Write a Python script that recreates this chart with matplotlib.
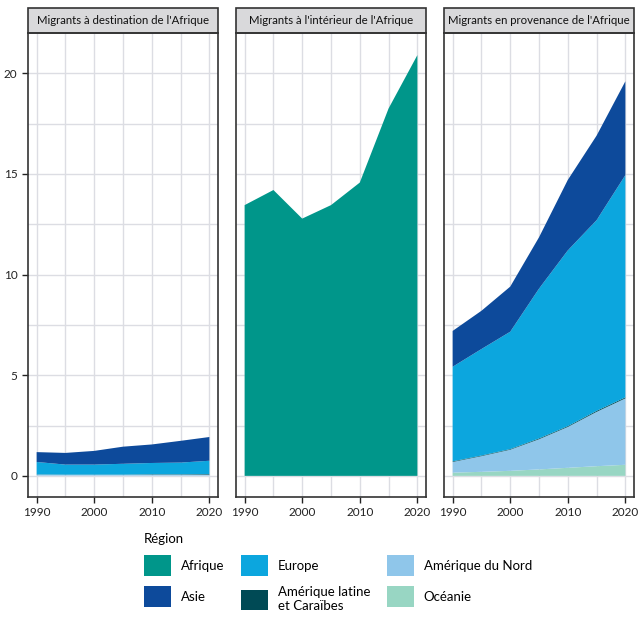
import numpy as np
import matplotlib
matplotlib.use("Agg")
import matplotlib.pyplot as plt
from matplotlib.patches import Rectangle, Patch

plt.rcParams["font.family"] = ["Lato", "DejaVu Sans"]

# données (millions de migrants)
annees = [1990, 1995, 2000, 2005, 2010, 2015, 2020]
regions = ["Afrique", "Asie", "Europe", "Amérique latine\net Caraïbes",
           "Amérique du Nord", "Océanie"]
couleurs = ["#00968a", "#0d4a9b", "#0ca6de", "#004a55", "#8fc6ea", "#98d6c3"]

# destination de l'Afrique (ordre: Océanie, Am. Nord, Am. latine, Europe, Asie)
dest_oceanie = [0.01, 0.01, 0.01, 0.01, 0.01, 0.01, 0.01]
dest_amnord = [0.05, 0.04, 0.04, 0.04, 0.05, 0.05, 0.05]
dest_amlat = [0.01, 0.01, 0.01, 0.01, 0.02, 0.02, 0.03]
dest_europe = [0.62, 0.50, 0.50, 0.54, 0.56, 0.58, 0.66]
dest_asie = [0.49, 0.58, 0.68, 0.85, 0.92, 1.08, 1.18]

# à l'intérieur de l'Afrique
int_afrique = [13.45, 14.2, 12.78, 13.45, 14.57, 18.25, 20.9]

# en provenance de l'Afrique
prov_oceanie = [0.16, 0.20, 0.25, 0.32, 0.40, 0.48, 0.55]
prov_amnord = [0.53, 0.78, 1.05, 1.50, 2.03, 2.70, 3.30]
prov_amlat = [0.03, 0.03, 0.03, 0.04, 0.04, 0.05, 0.05]
prov_europe = [4.70, 5.29, 5.83, 7.44, 8.73, 9.47, 11.04]
prov_asie = [1.78, 1.90, 2.24, 2.55, 3.50, 4.20, 4.66]

titres = ["Migrants à destination de l'Afrique",
          "Migrants à l'intérieur de l'Afrique",
          "Migrants en provenance de l'Afrique"]

W, H = 641, 617
fig, axes = plt.subplots(1, 3, figsize=(W / 100, H / 100), dpi=100, sharey=True)
fig.subplots_adjust(left=28 / W, right=634 / W, top=1 - 33 / H,
                    bottom=1 - 497 / H, wspace=18 / 190)

ordre = [couleurs[5], couleurs[4], couleurs[3], couleurs[2], couleurs[1]]
# panel 1
axes[0].stackplot(annees, dest_oceanie, dest_amnord, dest_amlat, dest_europe,
                  dest_asie, colors=ordre, linewidth=0)
# panel 2
axes[1].stackplot(annees, int_afrique, colors=[couleurs[0]], linewidth=0)
# panel 3
axes[2].stackplot(annees, prov_oceanie, prov_amnord, prov_amlat, prov_europe,
                  prov_asie, colors=ordre, linewidth=0)

for i, ax in enumerate(axes):
    ax.set_xlim(1988.5, 2021.5)
    ax.set_ylim(-1.05, 22.0)
    ax.set_xticks([1990, 2000, 2010, 2020])
    ax.set_xticks([1995, 2005, 2015], minor=True)
    ax.set_yticks([0, 5, 10, 15, 20])
    ax.set_yticks([2.5, 7.5, 12.5, 17.5], minor=True)
    ax.grid(True, which="both", color="#dcdde3", linewidth=1.0)
    ax.set_axisbelow(True)
    ax.tick_params(which="major", direction="out", length=4, width=1,
                   color="#222222", labelsize=8.5, labelcolor="#222222")
    ax.tick_params(which="minor", length=0)
    if i > 0:
        ax.tick_params(axis="y", length=0)
    for s in ax.spines.values():
        s.set_color("#333333")
        s.set_linewidth(1.2)
    # bandeau du titre
    hbar = 25 / 464
    ax.add_patch(Rectangle((0, 1), 1, hbar, transform=ax.transAxes,
                           facecolor="#d9d9db", edgecolor="#333333",
                           linewidth=1.2, clip_on=False))
    ax.text(0.5, 1 + hbar / 2, titres[i], transform=ax.transAxes,
            ha="center", va="center", fontsize=8.2, color="#111111")

handles = [Patch(facecolor=c, edgecolor="none") for c in couleurs]
leg = fig.legend(handles, regions, ncol=3, loc="upper left",
                 bbox_to_anchor=(132 / W, 1 - 521 / H), frameon=False,
                 title="Région", title_fontsize=9.5, fontsize=9.5,
                 handlelength=2.05, handleheight=2.0, handletextpad=0.75,
                 columnspacing=1.25, labelspacing=0.8, alignment="left")

fig.savefig("out.png", dpi=100)
